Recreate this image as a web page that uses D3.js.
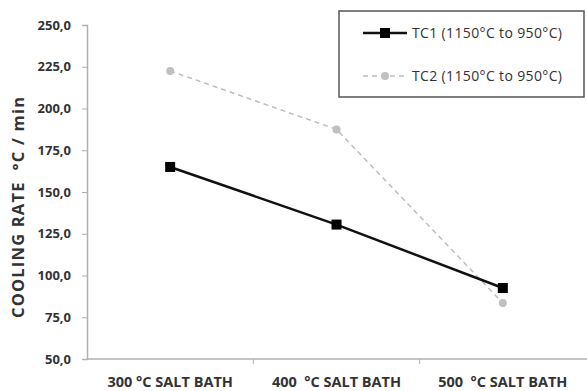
<!DOCTYPE html>
<html>
<head>
<meta charset="utf-8">
<script src="https://cdn.jsdelivr.net/npm/d3@7"></script>
<style>
  html, body { margin: 0; padding: 0; background: #fff; }
  svg { display: block; }
  text { font-family: "Open Sans", "DejaVu Sans", sans-serif; fill: #333; white-space: pre; }
</style>
</head>
<body>
<svg id="chart" width="587" height="391"></svg>
<script>
// Cooling rate per salt bath temperature
const categories = ["300 °C SALT BATH", "400  °C SALT BATH", "500  °C SALT BATH"];
const tc1 = [165, 130.5, 92.5];
const tc2 = [222.5, 187.5, 83.5];
const yTicks = [50, 75, 100, 125, 150, 175, 200, 225, 250];
const seriesNames = ["TC1 (1150°C to 950°C)", "TC2 (1150°C to 950°C)"];

const svg = d3.select("#chart");
const plotLeft = 87, plotRight = 587, plotTop = 25, plotBottom = 359;

const x = d3.scaleBand().domain(categories).range([plotLeft, plotRight - 1]);
const y = d3.scaleLinear().domain([50, 250]).range([plotBottom, plotTop]);
const fmt = v => d3.format(".1f")(v).replace(".", ",");

// Y axis
const yAxis = svg.append("g").attr("transform", `translate(${plotLeft},0)`)
  .call(d3.axisLeft(y).tickValues(yTicks).tickFormat(fmt).tickSize(5).tickPadding(11));
yAxis.select(".domain").attr("stroke", "#b0b0b0").attr("stroke-width", 1.5);
yAxis.selectAll(".tick line").attr("stroke", "#b0b0b0");
yAxis.selectAll(".tick text").style("font-size", "13px").style("font-weight", "bold")
  .style("font-family", "'Open Sans', sans-serif").attr("fill", "#333");

// X axis with ticks on category boundaries
const xAxis = svg.append("g").attr("transform", `translate(0,${plotBottom})`);
xAxis.append("line").attr("x1", plotLeft).attr("x2", plotRight).attr("y1", 0).attr("y2", 0)
  .attr("stroke", "#b0b0b0").attr("stroke-width", 1.5);
categories.slice(1).forEach(c => {
  xAxis.append("line").attr("x1", x(c)).attr("x2", x(c)).attr("y1", 0).attr("y2", 5)
    .attr("stroke", "#b0b0b0");
});
xAxis.selectAll("text.cat").data(categories).enter().append("text")
  .attr("class", "cat")
  .attr("x", d => x(d) + x.bandwidth() / 2)
  .attr("y", 28)
  .attr("text-anchor", "middle")
  .style("font-size", "14.5px").style("font-weight", "bold")
  .text(d => d);

// Axis title
svg.append("text")
  .attr("transform", `translate(23.5,207.5) rotate(-90)`)
  .attr("text-anchor", "middle")
  .attr("textLength", 221).attr("lengthAdjust", "spacing")
  .style("font-size", "16.5px").style("font-weight", "bold")
  .text("COOLING RATE  °C / min");

const cx = d => x(d) + x.bandwidth() / 2;
const line = d3.line().x(d => cx(d.c)).y(d => y(d.v));

// TC2: light gray dashed with round markers
const d2 = categories.map((c, i) => ({ c, v: tc2[i] }));
svg.append("path").datum(d2).attr("d", line)
  .attr("fill", "none").attr("stroke", "#bdbdbd").attr("stroke-width", 1.5)
  .attr("stroke-dasharray", "5,4");
svg.selectAll("circle.tc2").data(d2).enter().append("circle")
  .attr("class", "tc2").attr("cx", d => cx(d.c)).attr("cy", d => y(d.v)).attr("r", 4)
  .attr("fill", "#c0c0c0");

// TC1: black solid with square markers
const d1 = categories.map((c, i) => ({ c, v: tc1[i] }));
svg.append("path").datum(d1).attr("d", line)
  .attr("fill", "none").attr("stroke", "#111").attr("stroke-width", 2.5);
svg.selectAll("rect.tc1").data(d1).enter().append("rect")
  .attr("class", "tc1").attr("x", d => cx(d.c) - 5).attr("y", d => y(d.v) - 5)
  .attr("width", 10).attr("height", 10).attr("fill", "#000");

// Legend
const lg = svg.append("g");
lg.append("rect").attr("x", 339).attr("y", 11).attr("width", 245).attr("height", 86)
  .attr("fill", "#fff").attr("stroke", "#555").attr("stroke-width", 1.5);
const rows = [
  { name: seriesNames[0], y: 33, dash: null, color: "#111", w: 2.5, sq: true },
  { name: seriesNames[1], y: 76, dash: "5,4", color: "#bdbdbd", w: 1.5, sq: false }
];
rows.forEach(r => {
  lg.append("line").attr("x1", 363).attr("x2", 407).attr("y1", r.y).attr("y2", r.y)
    .attr("stroke", r.color).attr("stroke-width", r.w).attr("stroke-dasharray", r.dash);
  if (r.sq) {
    lg.append("rect").attr("x", 380).attr("y", r.y - 5).attr("width", 10).attr("height", 10).attr("fill", "#000");
  } else {
    lg.append("circle").attr("cx", 385).attr("cy", r.y).attr("r", 4).attr("fill", "#c0c0c0");
  }
  lg.append("text").attr("x", 412).attr("y", r.y + 5)
    .attr("textLength", 150).attr("lengthAdjust", "spacing")
    .style("font-size", "14px").text(r.name);
});
</script>
</body>
</html>
